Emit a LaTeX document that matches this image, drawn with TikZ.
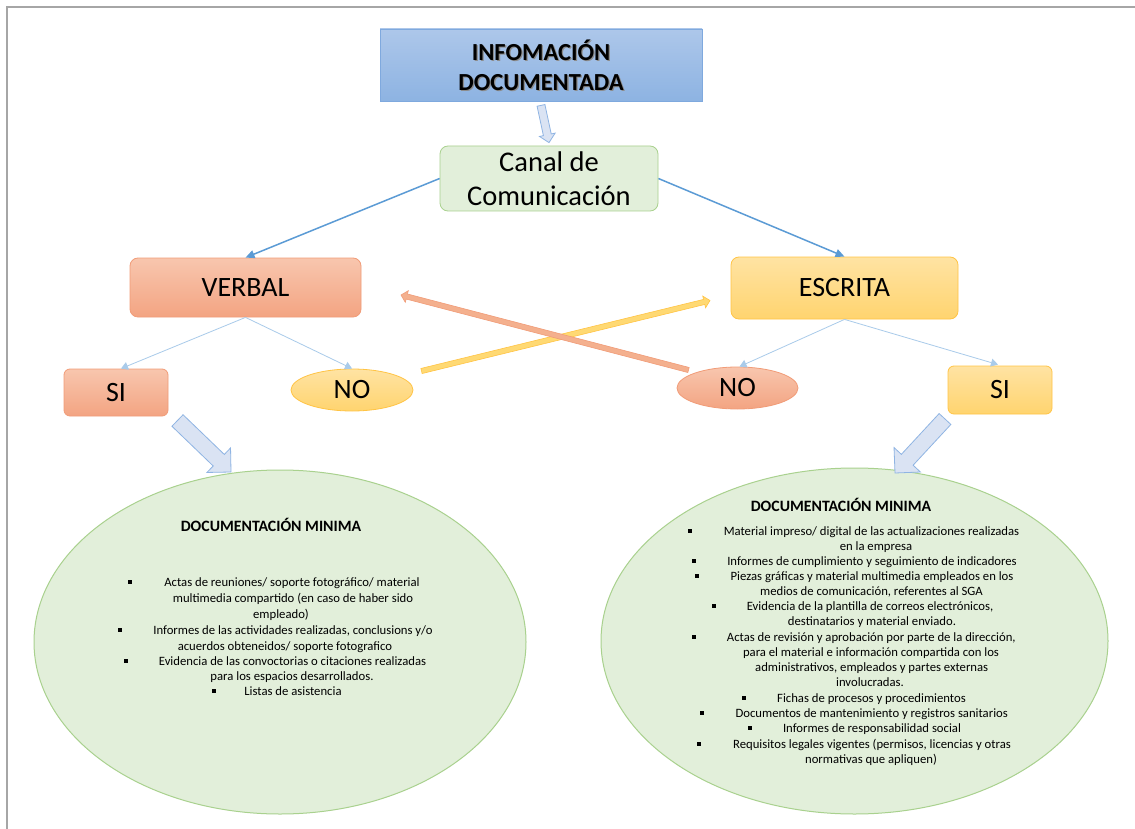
\documentclass[tikz,border=0pt]{standalone}
\usepackage{fontspec}
\setmainfont{Carlito}
\usetikzlibrary{shapes.geometric,arrows.meta,calc}

\definecolor{blueA}{HTML}{ADC7EA}
\definecolor{blueB}{HTML}{8DB3E2}
\definecolor{blueE}{HTML}{7FA9DE}
\definecolor{greenF}{HTML}{E2EFDA}
\definecolor{greenE}{HTML}{A9D18E}
\definecolor{salA}{HTML}{F8C6AE}
\definecolor{salB}{HTML}{F3A482}
\definecolor{salE}{HTML}{F19C78}
\definecolor{salF}{HTML}{F4B08E}
\definecolor{yelA}{HTML}{FFE3A3}
\definecolor{yelB}{HTML}{FFD46F}
\definecolor{yelE}{HTML}{FFC445}
\definecolor{yelF}{HTML}{FFD973}
\definecolor{lineB}{HTML}{5B9BD5}
\definecolor{lineL}{HTML}{A9CBEA}
\definecolor{arrF}{HTML}{DAE3F3}
\definecolor{arrE}{HTML}{8FB4E3}
\definecolor{frameG}{HTML}{A6A6A6}

% block arrow: #1 tail, #2 tip, #3 half shaft, #4 half head, #5 head length, #6 style
\newcommand{\blockarrow}[6]{%
  \coordinate (bhX) at ($(#2)!#5!(#1)$);
  \path[#6] ($(#1)!#3!90:(#2)$) -- ($(bhX)!#3!90:(#2)$) -- ($(bhX)!#4!90:(#2)$)
    -- (#2) -- ($(bhX)!#4!-90:(#2)$) -- ($(bhX)!#3!-90:(#2)$) -- ($(#1)!#3!-90:(#2)$) -- cycle;
}

\tikzset{
  x=1pt, y=-1pt,
  titlebox/.style={draw=blueE, line width=0.8pt, top color=blueA, bottom color=blueB,
    minimum width=322pt, minimum height=72pt, inner sep=0pt},
  titletxt/.style={font=\bfseries\fontsize{24.5}{30}\selectfont, align=center, inner sep=0pt},
  canalbox/.style={draw=greenE, line width=0.8pt, fill=greenF, rounded corners=8pt,
    minimum width=218pt, minimum height=65pt, inner sep=0pt, align=center,
    font=\fontsize{28.5}{34}\selectfont},
  salbox/.style={draw=salE, line width=0.8pt, top color=salA, bottom color=salB, rounded corners=8pt,
    inner sep=0pt, font=\fontsize{28}{30}\selectfont},
  yelbox/.style={draw=yelE, line width=0.8pt, top color=yelA, bottom color=yelB, rounded corners=8pt,
    inner sep=0pt, font=\fontsize{28}{30}\selectfont},
  salell/.style={ellipse, draw=salE, line width=0.8pt, top color=salA, bottom color=salB,
    inner sep=0pt, minimum width=121pt, minimum height=42pt, font=\fontsize{28}{30}\selectfont},
  yelell/.style={ellipse, draw=yelE, line width=0.8pt, top color=yelA, bottom color=yelB,
    inner sep=0pt, minimum width=122pt, minimum height=42pt, font=\fontsize{28}{30}\selectfont},
  docell/.style={ellipse, draw=greenE, line width=1pt, fill=greenF, inner sep=0pt},
  mainconn/.style={draw=lineB, line width=1.5pt, -{Triangle[length=9pt,width=8pt]}},
  subconn/.style={draw=lineL, line width=0.8pt, -{Triangle[length=7pt,width=8pt]}},
  bigarrow/.style={fill=arrF, draw=arrE, line width=0.8pt, line join=miter},
  salarrow/.style={fill=salF, draw=salE, line width=0.6pt},
  yelarrow/.style={fill=yelF, draw=yelE, line width=0.6pt},
  doctitle/.style={font=\bfseries\fontsize{15.8}{18}\selectfont, inner sep=0pt},
  docline/.style={font=\fontsize{12.7}{15}\selectfont, inner sep=0pt, text height=9pt, text depth=3pt},
  bul/.style={fill=black, minimum size=3.6pt, inner sep=0pt},
}

\begin{document}
\begin{tikzpicture}
\useasboundingbox (0,0) rectangle (1135,829);
\fill[white] (0,0) rectangle (1135,829);

% page frame
\draw[frameG, line width=1.3pt] (7,829) -- (7,7) -- (1135,7);

% title
\node[titlebox] (title) at (541,65) {};
\node[titletxt, text=black!45] (tshadow) at (542.3,66.3) {INFOMACIÓN\\DOCUMENTADA};
\node[titletxt] (ttext) at (541,65) {INFOMACIÓN\\DOCUMENTADA};

% canal
\node[canalbox] (canal) at (549,178.5) {Canal de\\Comunicación};

% second level
\node[salbox, minimum width=231pt, minimum height=59pt] (verbal) at (245.5,287.5) {VERBAL};
\node[yelbox, minimum width=227pt, minimum height=62pt] (escrita) at (844.5,288) {ESCRITA};

% third level
\node[salbox, minimum width=104pt, minimum height=47pt, rounded corners=6pt] (siL) at (116,392.5) {SI};
\node[yelell] (noL) at (352,390) {NO};
\node[salell] (noR) at (737.5,388) {NO};
\node[yelbox, minimum width=104pt, minimum height=48pt, rounded corners=6pt] (siR) at (1000,390) {SI};

% documentation ellipses
\node[docell, minimum width=492pt, minimum height=344pt] (docL) at (280,642) {};
\node[docell, minimum width=507pt, minimum height=346pt] (docR) at (854.5,641) {};

% connectors
\draw[mainconn] (canal.west) -- (verbal.north);
\draw[mainconn] (canal.east) -- (escrita.north);
\draw[subconn] (verbal.south) -- ($(siL.north)+(5,0)$);
\draw[subconn] (verbal.south) -- (noL.north);
\draw[subconn] (escrita.south) -- ($(noR.north)+(2,0)$);
\draw[subconn] (escrita.south) -- ($(siR.north)+(-2,-1)$);

% block arrows
\coordinate (a1t) at ($(title.south)+(0,4)$);
\coordinate (a1h) at ($(canal.north)+(0,-3)$);
\blockarrow{a1t}{a1h}{4pt}{8pt}{8pt}{bigarrow}

\coordinate (bLt) at (177.5,420.5);
\coordinate (bLh) at (231,472);
\blockarrow{bLt}{bLh}{8pt}{17pt}{17pt}{bigarrow}

\coordinate (bRt) at (945,419);
\coordinate (bRh) at (895,473);
\blockarrow{bRt}{bRh}{8pt}{18pt}{18pt}{bigarrow}

% crossing arrows
\coordinate (yT) at (421.5,371);
\coordinate (yH) at (710,300.5);
\blockarrow{yT}{yH}{2.6pt}{6pt}{6pt}{yelarrow}
\coordinate (sT) at (688.5,370);
\coordinate (sH) at (401,295);
\blockarrow{sT}{sH}{2.6pt}{6pt}{6pt}{salarrow}

% left documentation text
\node[doctitle] (tL) at (271,525) {DOCUMENTACIÓN MINIMA};
\node[docline] (l1) at (292,583) {Actas de reuniones/ soporte fotográfico/ material};
\node[docline] (l2) at (293,599) {multimedia compartido (en caso de haber sido};
\node[docline] (l3) at (281,615) {empleado)};
\node[docline] (l4) at (293,631) {Informes de las actividades realizadas, conclusions y/o};
\node[docline] (l5) at (285,647) {acuerdos obteneidos/ soporte fotografico};
\node[docline] (l6) at (292.5,662) {Evidencia de las convoctorias o citaciones realizadas};
\node[docline] (l7) at (292,677) {para los espacios desarrollados.};
\node[docline] (l8) at (293,692) {Listas de asistencia};
\node[bul] (bl1) at (130,582) {};
\node[bul] (bl2) at (120,630) {};
\node[bul] (bl3) at (126,661) {};
\node[bul] (bl4) at (214,691) {};

% right documentation text
\node[doctitle] (tR) at (841,505) {DOCUMENTACIÓN MINIMA};
\node[docline] (r1) at (871.5,532) {Material impreso/ digital de las actualizaciones realizadas};
\node[docline] (r2) at (876,547) {en la empresa};
\node[docline] (r3) at (872,562) {Informes de cumplimiento y seguimiento de indicadores};
\node[docline] (r4) at (872,577) {Piezas gráficas y material multimedia empleados en los};
\node[docline] (r5) at (871.5,592) {medios de comunicación, referentes al SGA};
\node[docline] (r6) at (870,607) {Evidencia de la plantilla de correos electrónicos,};
\node[docline] (r7) at (872,622.5) {destinatarios y material enviado.};
\node[docline] (r8) at (871.3,638) {Actas de revisión y aprobación por parte de la dirección,};
\node[docline] (r9) at (871,653) {para el material e información compartida con los};
\node[docline] (r10) at (871.7,668) {administrativos, empleados y partes externas};
\node[docline] (r11) at (870,683) {involucradas.};
\node[docline] (r12) at (871.5,699) {Fichas de procesos y procedimientos};
\node[docline] (r13) at (871.7,714) {Documentos de mantenimiento y registros sanitarios};
\node[docline] (r14) at (872,729) {Informes de responsabilidad social};
\node[docline] (r15) at (872,745) {Requisitos legales vigentes (permisos, licencias y otras};
\node[docline] (r16) at (871,760) {normativas que apliquen)};
\node[bul] (br1) at (690,531) {};
\node[bul] (br2) at (694,561) {};
\node[bul] (br3) at (697,576) {};
\node[bul] (br4) at (714,606) {};
\node[bul] (br5) at (694,637) {};
\node[bul] (br6) at (744,698) {};
\node[bul] (br7) at (702,713) {};
\node[bul] (br8) at (750,728) {};
\node[bul] (br9) at (699,744) {};
\end{tikzpicture}
\end{document}
